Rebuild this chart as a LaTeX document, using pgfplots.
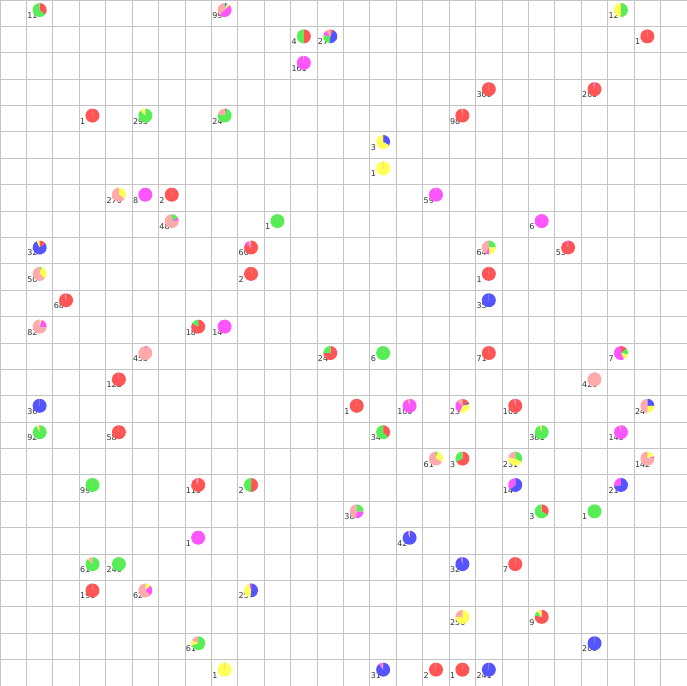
\documentclass[border=0pt]{standalone}
\usepackage{pgfplots}
\usepackage{pgfplotstable}
\pgfplotsset{compat=1.18}
\usepackage{fontspec}
\setmainfont{DejaVu Sans}
\definecolor{cR}{HTML}{FF5555}
\definecolor{cG}{HTML}{55EE55}
\definecolor{cB}{HTML}{5555FF}
\definecolor{cY}{HTML}{FFFF55}
\definecolor{cM}{HTML}{FF55FF}
\definecolor{cP}{HTML}{FFAAAA}
\definecolor{gridc}{HTML}{C4C4C4}
\definecolor{labc}{HTML}{333333}

% col = column, row = row (from top), lab = label, shares in percent
% slices run clockwise from the top in the order red, blue, green, yellow, magenta, pink
\pgfplotstableread{
col row lab red grn blu yel mag pnk
1 0 11 36 64 0 0 0 0
8 0 99 0 3 4 6 50 37
23 0 12 0 50 0 50 0 0
11 1 4 50 50 0 0 0 0
12 1 27 7.4 26 44.4 0 11.1 11.1
24 1 1 100 0 0 0 0 0
11 2 161 0 0 0 0 98 2
18 3 300 100 0 0 0 0 0
22 3 205 97 0 0 0 3 0
3 4 1 100 0 0 0 0 0
5 4 295 0 88 0 12 0 0
8 4 24 4 75 0 0 0 21
17 4 98 98 0 0 0 0 2
14 5 3 0 0 33.3 66.7 0 0
14 6 1 0 0 0 100 0 0
4 7 270 0 0 0 35 0 65
5 7 8 0 0 0 0 100 0
6 7 2 100 0 0 0 0 0
16 7 59 0 0 0 0 98 2
6 8 48 0 17 0 0 7 76
10 8 1 0 100 0 0 0 0
20 8 6 0 0 0 0 100 0
1 9 32 15 0 78 7 0 0
9 9 60 85 0 0 0 8 7
18 9 64 0 25 0 25 8 42
21 9 53 96 0 0 0 4 0
1 10 50 0 4 0 33 0 63
9 10 2 100 0 0 0 0 0
18 10 1 100 0 0 0 0 0
2 11 68 98 0 0 0 0 2
18 11 35 0 0 100 0 0 0
1 12 82 0 0 0 5 22 73
7 12 18 83 17 0 0 0 0
8 12 14 0 0 0 0 100 0
5 13 455 0 0 0 0 4 96
12 13 24 75 25 0 0 0 0
14 13 6 0 100 0 0 0 0
18 13 71 100 0 0 0 0 0
23 13 7 14.3 14.3 0 14.3 57.1 0
4 14 122 99 0 0 0 0 1
22 14 420 0 0 0 0 3 97
1 15 36 0 0 100 0 0 0
13 15 1 100 0 0 0 0 0
15 15 100 0 0 0 0 95 5
17 15 23 17.4 0 4.3 34.8 30.4 13.1
19 15 105 98 0 0 0 2 0
24 15 24 0 0 25 25 0 50
1 16 92 0 93 0 5 0 2
4 16 58 100 0 0 0 0 0
14 16 34 38 62 0 0 0 0
20 16 381 0 95 0 5 0 0
23 16 145 0 0 0 0 96 4
16 17 61 0 4 0 30 0 66
17 17 3 66.7 33.3 0 0 0 0
19 17 231 0 33 0 45 0 22
24 17 142 0 0 0 20 4 76
3 18 99 0 100 0 0 0 0
7 18 113 94 0 0 0 3 3
9 18 2 50 50 0 0 0 0
19 18 14 0 0 64.3 0 35.7 0
23 18 21 0 0 72 0 28 0
13 19 38 0 26 0 0 26 48
20 19 3 33.3 66.7 0 0 0 0
22 19 1 0 100 0 0 0 0
7 20 1 0 0 0 0 100 0
15 20 42 0 0 96 0 2 2
3 21 61 0 88 0 2 0 10
4 21 240 0 99 0 0 0 1
17 21 32 0 0 97 0 3 0
19 21 7 100 0 0 0 0 0
3 22 198 100 0 0 0 0 0
5 22 62 0 0 0 13 24 63
9 22 25 0 0 52 44 4 0
17 23 250 0 0 0 75 0 25
20 23 9 77.8 11.1 0 11.1 0 0
7 24 61 0 70 0 13 0 17
22 24 205 0 0 100 0 0 0
8 25 1 0 0 0 100 0 0
14 25 31 0 0 90 0 7 3
16 25 2 100 0 0 0 0 0
17 25 1 100 0 0 0 0 0
18 25 241 0 0 100 0 0 0
}\pies

\pgfdeclareplotmark{sector}{%
  \pgfpathmoveto{\pgfpointorigin}%
  \pgfpathlineto{\pgfpointpolar{\slicea}{\pgfplotmarksize}}%
  \pgfpatharc{\slicea}{\sliceb}{\pgfplotmarksize}%
  \pgfpathclose
  \pgfusepathqfill}

\newcommand{\pieslice}[3]{%
  \addplot[only marks, scatter, mark=sector, mark size=7bp, color=#1,
    point meta=\thisrow{lab},
    scatter/@pre marker code/.code={\scope},
    scatter/@post marker code/.code={\endscope},
    visualization depends on={90-3.6*(#2) \as \slicea},
    visualization depends on={90-3.6*(#3) \as \sliceb}]
  table[x expr=\thisrow{col}+0.5, y expr=\thisrow{row}+0.38]{\pies};}

\begin{document}
\begin{tikzpicture}
\begin{axis}[
  scale only axis, width=687bp, height=686bp,
  xmin=0, xmax=26, ymin=0, ymax=26, y dir=reverse,
  xtick={0,...,26}, ytick={0,...,26},
  xticklabels={}, yticklabels={},
  major tick length=0pt,
  grid=major, major grid style={draw=gridc, line width=0.9bp},
  axis line style={draw=gridc, line width=0.9bp},
]
\addplot[draw=none, mark=none, nodes near coords, point meta=explicit symbolic,
  nodes near coords style={anchor=base west, inner sep=0pt, text=labc,
    font=\fontsize{8bp}{9bp}\selectfont, xshift=-12.5bp, yshift=-8.5bp}]
  table[x expr=\thisrow{col}+0.5, y expr=\thisrow{row}+0.38, meta=lab]{\pies};
\pieslice{cR}{0}{\thisrow{red}}
\pieslice{cB}{\thisrow{red}}{\thisrow{red}+\thisrow{blu}}
\pieslice{cG}{\thisrow{red}+\thisrow{blu}}{\thisrow{red}+\thisrow{blu}+\thisrow{grn}}
\pieslice{cY}{\thisrow{red}+\thisrow{blu}+\thisrow{grn}}{\thisrow{red}+\thisrow{blu}+\thisrow{grn}+\thisrow{yel}}
\pieslice{cM}{100-\thisrow{pnk}-\thisrow{mag}}{100-\thisrow{pnk}}
\pieslice{cP}{100-\thisrow{pnk}}{100}
\end{axis}
\pgfresetboundingbox
\useasboundingbox (current axis.south west) rectangle (current axis.north east);
\end{tikzpicture}
\end{document}
